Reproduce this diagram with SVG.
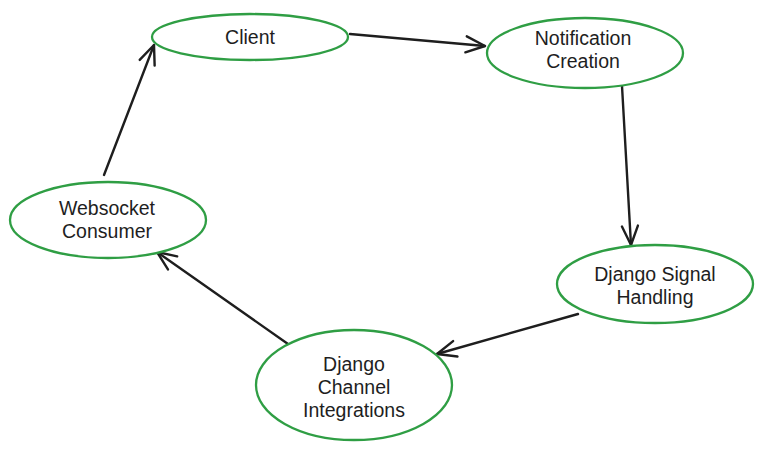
<svg xmlns="http://www.w3.org/2000/svg" width="764" height="453" viewBox="0 0 764 453">
<defs>
<style>
.node ellipse{fill:#fff;stroke:#2f9e44;stroke-width:2.3}
.node text{font-family:"Liberation Sans",Arial,sans-serif;font-size:19.5px;fill:#1e1e1e;text-anchor:middle}
.conn path{fill:none;stroke:#1e1e1e;stroke-width:2.4;stroke-linecap:round;stroke-linejoin:round}
</style>
<marker id="ah" viewBox="0 0 24 24" refX="22" refY="12" markerWidth="24" markerHeight="24" markerUnits="userSpaceOnUse" orient="auto">
<path d="M3,4 L22,12 L3,20" fill="none" stroke="#1e1e1e" stroke-width="2.4" stroke-linecap="round" stroke-linejoin="round"/>
</marker>
</defs>
<rect width="764" height="453" fill="#fff"/>
<g class="conn">
<path d="M350,34 L485,46" marker-end="url(#ah)"/>
<path d="M622,86 L631,245" marker-end="url(#ah)"/>
<path d="M578,314 L437,354" marker-end="url(#ah)"/>
<path d="M288,344 L157,252" marker-end="url(#ah)"/>
<path d="M104,175 L154,45" marker-end="url(#ah)"/>
</g>
<g id="client" class="node"><ellipse cx="250" cy="37" rx="98" ry="23"/><text x="250" y="44">Client</text></g>
<g id="notification" class="node"><ellipse cx="585" cy="53" rx="98" ry="35"/><text x="583" y="45">Notification</text><text x="583" y="68">Creation</text></g>
<g id="signal" class="node"><ellipse cx="655" cy="284" rx="98" ry="39"/><text x="655" y="281">Django Signal</text><text x="655" y="304">Handling</text></g>
<g id="channel" class="node"><ellipse cx="354" cy="385" rx="98" ry="55"/><text x="354" y="371">Django</text><text x="354" y="394">Channel</text><text x="354" y="417">Integrations</text></g>
<g id="websocket" class="node"><ellipse cx="108" cy="220" rx="98" ry="38"/><text x="107" y="215">Websocket</text><text x="107" y="238">Consumer</text></g>
</svg>
